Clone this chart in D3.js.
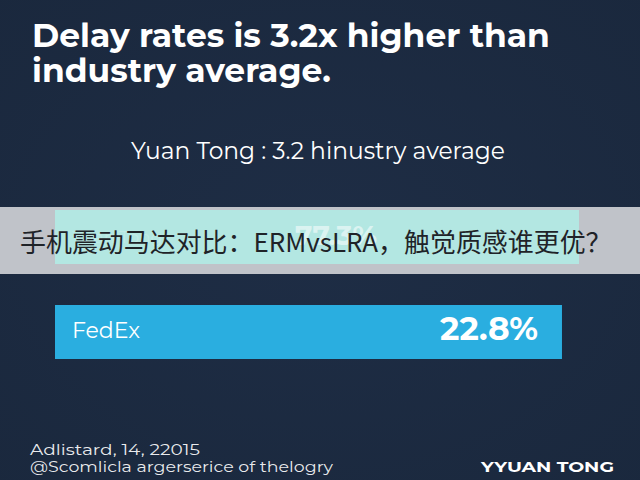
<!DOCTYPE html>
<html><head><meta charset="utf-8">
<script src="https://cdn.jsdelivr.net/npm/d3@7"></script>
<style>
html,body{margin:0;padding:0;background:#1c2a40;}
svg{display:block;}
</style></head>
<body>
<script>
// ---- data ----
const titleLines = ["Delay rates is 3.2x higher than", "industry average."];
const subtitle = "Yuan Tong : 3.2 hinustry average";
const categories = ["Yuan Tong", "FedEx"];
const values = [77.3, 22.8];
const valueLabels = ["77.3%", "22.8%"];
const bannerText = "手机震动马达对比：ERMvsLRA，触觉质感谁更优？";
const footerLines = ["Adlistard, 14, 22015", "@Scomlicla argerserice of thelogry"];
const brand = "YYUAN TONG";

const W = 640, H = 480;
const svg = d3.select("body").append("svg").attr("width", W).attr("height", H);

const defs = svg.append("defs");
const grad = defs.append("radialGradient").attr("id","bg").attr("cx","50%").attr("cy","50%").attr("r","75%");
grad.append("stop").attr("offset","0%").attr("stop-color","#1e2d45");
grad.append("stop").attr("offset","100%").attr("stop-color","#1a283d");
svg.append("rect").attr("width",W).attr("height",H).attr("fill","url(#bg)");

function fit(sel, target){
  const w = sel.node().getComputedTextLength();
  const fs = parseFloat(sel.attr("font-size"));
  sel.attr("font-size", fs*target/w);
}

// title
const sans = "Montserrat, 'Open Sans', Lato, 'DejaVu Sans', sans-serif";
const t1 = svg.append("text").attr("x",32).attr("y",47).attr("fill","#ffffff")
  .attr("font-family",sans).attr("font-weight",700).attr("font-size",28).text(titleLines[0]);
fit(t1, 518);
svg.append("text").attr("x",32).attr("y",82).attr("fill","#ffffff")
  .attr("font-family",sans).attr("font-weight",700).attr("font-size",t1.attr("font-size")).text(titleLines[1]);

const st = svg.append("text").attr("x",318).attr("y",159).attr("text-anchor","middle").attr("fill","#ffffff")
  .attr("font-family",sans).attr("font-size",20).text(subtitle);
fit(st, 374);

// banner (behind first bar)
svg.append("rect").attr("x",0).attr("y",207).attr("width",W).attr("height",67).attr("fill","#c0c3c9");

// scales
const x = d3.scaleLinear().domain([-1600, 77.3]).range([55, 579]);
const y = d3.scaleBand().domain(categories).range([210, 359]).paddingInner(0.4316).paddingOuter(0);
const colors = d3.scaleOrdinal().domain(categories).range(["#b3e7e2", "#2aaee0"]);

const g = svg.append("g");
const bars = g.selectAll("g.bar").data(categories.map((c,i)=>({c, v:values[i], l:valueLabels[i], i}))).enter()
  .append("g").attr("class","bar");
bars.append("rect")
  .attr("x", x(-1600))
  .attr("y", d=>y(d.c))
  .attr("width", d=>x(d.v)-x(-1600))
  .attr("height", y.bandwidth())
  .attr("fill", d=>colors(d.c));
bars.append("text")
  .attr("x", 72)
  .attr("y", d=>y(d.c)+y.bandwidth()/2+6)
  .attr("fill","#ffffff")
  .attr("fill-opacity", d=>d.i===0?0.2:1)
  .attr("font-family",sans).attr("font-size",17)
  .text(d=>d.c)
  .each(function(d){ if(d.i===1) fit(d3.select(this), 68); });
bars.append("text")
  .attr("x", d=>d.i===0?377:538)
  .attr("y", d=>y(d.c)+y.bandwidth()/2+8)
  .attr("text-anchor","end")
  .attr("fill","#ffffff")
  .attr("fill-opacity", d=>d.i===0?0.55:1)
  .attr("font-family",sans).attr("font-weight",700).attr("font-size",23)
  .text(d=>d.l)
  .each(function(d){ fit(d3.select(this), d.i===0?82:98); });

// banner text
const bt = svg.append("text").attr("x",20).attr("y",252).attr("fill","#1f2328")
  .attr("font-family","'Noto Sans CJK SC', 'Noto Sans', sans-serif").attr("font-size",26).text(bannerText);
fit(bt, 592);

// footer
svg.append("text").attr("x",30).attr("y",455).attr("fill","#ffffff").attr("fill-opacity",0.92)
  .attr("font-family",sans).attr("font-size",14.5).attr("textLength",170).attr("lengthAdjust","spacingAndGlyphs")
  .text(footerLines[0]);
svg.append("text").attr("x",30).attr("y",472).attr("fill","#ffffff").attr("fill-opacity",0.92)
  .attr("font-family",sans).attr("font-size",14.5).attr("textLength",303).attr("lengthAdjust","spacingAndGlyphs")
  .text(footerLines[1]);
svg.append("text").attr("x",481).attr("y",472).attr("fill","#ffffff")
  .attr("font-family",sans).attr("font-weight",700).attr("font-size",14.5).attr("textLength",133).attr("lengthAdjust","spacingAndGlyphs")
  .text(brand);
</script>
</body></html>
